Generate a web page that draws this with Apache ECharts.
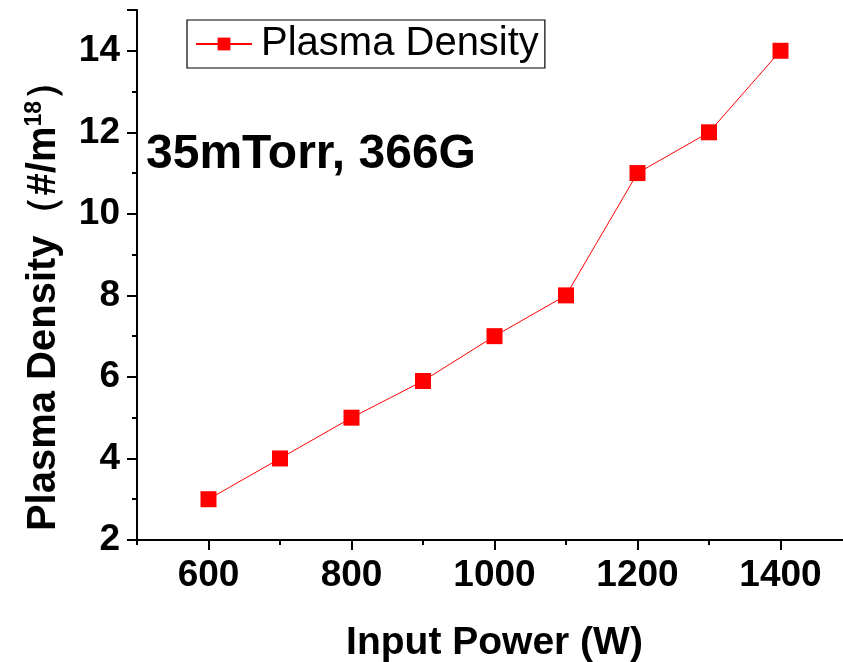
<!DOCTYPE html>
<html><head><meta charset="utf-8">
<script src="https://cdn.jsdelivr.net/npm/echarts@6/dist/echarts.min.js"></script>
<style>html,body{margin:0;padding:0;background:#fff}#c{width:843px;height:662px}</style>
</head><body><div id="c"></div>
<script>
const powers = [600, 700, 800, 900, 1000, 1100, 1200, 1300, 1400];
const density = [3, 4, 5, 5.9, 7, 8, 11, 12, 14];
const xMajorTicks = [600, 800, 1000, 1200, 1400];
const xMinorTicks = [500, 700, 900, 1100, 1300, 1500];
const seriesName = 'Plasma Density';
const xTitle = 'Input Power (W)';
const yTitle = 'Plasma Density（#/m{sup|18}）';
const annotation = '35mTorr, 366G';

const chart = echarts.init(document.getElementById('c'));
const F = 'Liberation Sans, Arial, sans-serif';
const black = '#000';
chart.setOption({
  animation: false,
  grid: {left: 137, top: 10, width: 715, height: 530, outerBoundsMode: 'none', containLabel: false},
  legend: {
    left: 187, top: 20,
    data: [seriesName],
    borderColor: black, borderWidth: 1.2, borderRadius: 0,
    padding: [4, 6, 4, 8],
    itemWidth: 56, itemHeight: 16, itemGap: 0,
    textStyle: {fontFamily: F, fontSize: 40, color: black, padding: [0, 0, 0, 4]}
  },
  xAxis: [{
    type: 'value', min: 500, max: 1500,
    name: xTitle, nameLocation: 'middle', nameGap: 84,
    nameTextStyle: {fontFamily: F, fontSize: 39, fontWeight: 'bold', color: black},
    axisLine: {show: true, onZero: false, lineStyle: {color: black, width: 2}},
    axisTick: {show: true, inside: false, length: 10, customValues: xMajorTicks, lineStyle: {color: black, width: 2}},
    splitLine: {show: false},
    axisLabel: {fontFamily: F, fontSize: 37, fontWeight: 'bold', color: black, margin: 17,
      customValues: xMajorTicks, formatter: v => String(v)}
  }, {
    type: 'value', min: 500, max: 1500, position: 'bottom',
    axisLine: {show: false},
    axisTick: {show: true, inside: false, length: 5, customValues: xMinorTicks, lineStyle: {color: black, width: 2}},
    axisLabel: {show: false},
    splitLine: {show: false}
  }],
  yAxis: {
    type: 'value', min: 2, max: 15, interval: 2,
    axisLine: {show: true, onZero: false, lineStyle: {color: black, width: 2}},
    axisTick: {show: true, inside: false, length: 10, lineStyle: {color: black, width: 2}},
    minorTick: {show: true, splitNumber: 2, length: 5, lineStyle: {color: black, width: 2}},
    splitLine: {show: false},
    axisLabel: {fontFamily: F, fontSize: 37, fontWeight: 'bold', color: black, margin: 17,
      formatter: v => (v <= 14) ? String(v) : ''}
  },
  graphic: [{
    type: 'text', left: 146, top: 131,
    style: {text: annotation, fontFamily: F, fontSize: 48, fontWeight: 'bold', fill: black}
  }, {
    type: 'text', x: 44, y: 296, rotation: Math.PI / 2,
    style: {
      text: yTitle, fontFamily: F, fontSize: 40, fontWeight: 'bold', fill: black,
      align: 'center', verticalAlign: 'middle',
      rich: {sup: {fontFamily: F, fontSize: 23, fontWeight: 'bold', fill: black, verticalAlign: 'top', padding: [0, 0, 18, 0]}}
    }
  }],
  series: [{
    name: seriesName, type: 'line',
    data: powers.map((p, i) => [p, density[i]]),
    symbol: 'rect', symbolSize: 16,
    lineStyle: {color: '#ff0000', width: 1},
    itemStyle: {color: '#ff0000'}
  }]
});
</script></body></html>
